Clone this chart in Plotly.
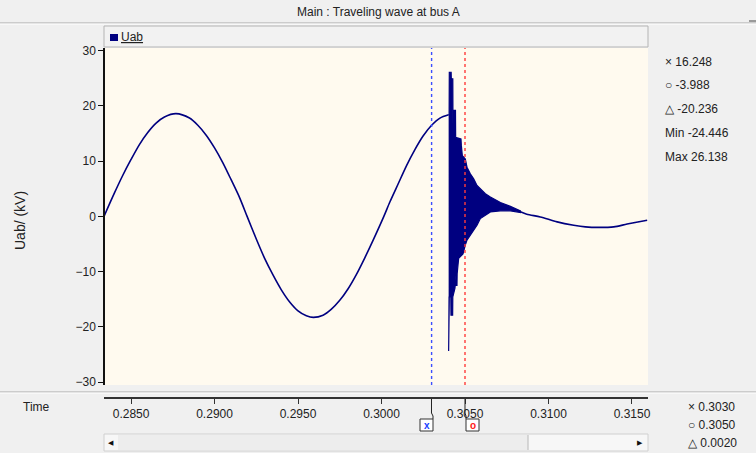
import plotly.graph_objects as go

# ---------------- data ----------------
sine_t = [0.28338, 0.28400, 0.28450, 0.28500, 0.28550, 0.28600, 0.28650, 0.28700,
          0.28769, 0.28850, 0.28900, 0.28950, 0.29000, 0.29050, 0.29100, 0.29150,
          0.29195, 0.29250, 0.29300, 0.29350, 0.29400, 0.29450, 0.29500, 0.29550,
          0.29592, 0.29650, 0.29700, 0.29750, 0.29800, 0.29850, 0.29900, 0.29950,
          0.30014, 0.30050, 0.30100, 0.30150, 0.30200, 0.30250, 0.30300, 0.30350,
          0.30402]
sine_v = [0.0, 4.2, 7.4, 10.3, 13.0, 15.2, 16.9, 18.0,
          18.6, 17.8, 16.5, 14.7, 12.4, 9.7, 6.6, 3.4,
          0.0, -4.1, -7.6, -10.6, -13.3, -15.5, -17.1, -18.0,
          -18.3, -17.9, -16.8, -15.2, -13.1, -10.5, -7.5, -4.3,
          0.0, 2.6, 5.9, 9.2, 12.1, 14.6, 16.5, 17.8,
          18.4]

upper_t = [0.30402, 0.30405, 0.30406, 0.30417, 0.30418, 0.30427, 0.30428, 0.30433,
           0.30434, 0.30443, 0.30444, 0.30476, 0.30478, 0.30484, 0.30502, 0.30512,
           0.30532, 0.30552, 0.30572, 0.30592, 0.30622, 0.30652, 0.30712, 0.30772,
           0.30832]
upper_v = [18.4, 18.5, 26.1, 26.1, 24.9, 24.9, 16.8, 16.8,
           19.2, 19.2, 14.3, 14.0, 12.9, 11.0, 10.4, 8.9,
           7.7, 6.8, 5.6, 5.0, 4.1, 3.5, 2.5, 1.8,
           1.0]

lower_t = [0.30402, 0.30405, 0.30406, 0.30415, 0.30416, 0.30426, 0.30427, 0.30440,
           0.30447, 0.30448, 0.30452, 0.30453, 0.30462, 0.30488, 0.30502, 0.30512,
           0.30532, 0.30552, 0.30572, 0.30592, 0.30622, 0.30652, 0.30712, 0.30772,
           0.30832]
lower_v = [-24.4, -24.4, -14.6, -14.6, -17.9, -17.9, -14.6, -13.0,
           -10.4, -12.5, -12.5, -10.4, -7.6, -6.8, -5.2, -4.3,
           -3.2, -2.5, -1.6, -0.4, 0.2, 0.8, 1.0, 1.0,
           0.7]

tail_t = [0.30832, 0.30870, 0.30951, 0.31052, 0.31151, 0.31221, 0.31300, 0.31391, 0.31471, 0.31591]
tail_v = [0.85, 0.4, -0.1, -1.0, -1.6, -1.9, -2.0, -1.9, -1.4, -0.7]

x_ticks = [0.2850, 0.2900, 0.2950, 0.3000, 0.3050, 0.3100, 0.3150]
x_tick_labels = ["0.2850", "0.2900", "0.2950", "0.3000", "0.3050", "0.3100", "0.3150"]
y_ticks = [-30, -20, -10, 0, 10, 20, 30]

cursor_x = 0.3030
cursor_o = 0.3050
readouts = ["\u00d7 16.248", "\u25cb -3.988", "\u25b3 -20.236", "Min -24.446", "Max 26.138"]
time_readouts = ["\u00d7 0.3030", "\u25cb 0.3050", "\u25b3 0.0020"]

# ---------------- layout geometry ----------------
W, H = 756, 453
L, R, T, B = 104, 648, 48, 398
PW, PH = R - L, B - T


def px(x):
    return (x - L) / PW


def py(y):
    return (B - y) / PH


NAVY = "#000080"
FONT = "Liberation Sans, Arial, sans-serif"
TXT = "#222222"

fig = go.Figure()

fig.add_trace(go.Scatter(x=sine_t, y=sine_v, mode="lines",
                         line=dict(color=NAVY, width=1.6, shape="spline", smoothing=0.8),
                         showlegend=False, hoverinfo="skip"))
fig.add_trace(go.Scatter(x=upper_t + lower_t[::-1], y=upper_v + lower_v[::-1], mode="lines",
                         fill="toself", fillcolor=NAVY, line=dict(color=NAVY, width=1.2),
                         showlegend=False, hoverinfo="skip"))
fig.add_trace(go.Scatter(x=tail_t, y=tail_v, mode="lines",
                         line=dict(color=NAVY, width=1.6, shape="spline", smoothing=0.8),
                         showlegend=False, hoverinfo="skip"))

shapes = []
# title bar separators
shapes.append(dict(type="line", xref="paper", yref="paper", x0=px(0), x1=px(W), y0=py(23), y1=py(23),
                   line=dict(color="#A8A8A8", width=1)))
shapes.append(dict(type="line", xref="paper", yref="paper", x0=px(0), x1=px(W), y0=py(24), y1=py(24),
                   line=dict(color="#FFFFFF", width=1)))
shapes.append(dict(type="line", xref="paper", yref="paper", x0=px(749), x1=px(756), y0=py(21), y1=py(21),
                   line=dict(color="#444444", width=1)))
# legend bar
shapes.append(dict(type="rect", xref="paper", yref="paper", x0=px(104), x1=px(648), y0=py(47), y1=py(26),
                   fillcolor="#F2F2F2", line=dict(color="#B4B4B4", width=1)))
shapes.append(dict(type="rect", xref="paper", yref="paper", x0=px(110), x1=px(118), y0=py(41), y1=py(34),
                   fillcolor=NAVY, line=dict(width=0)))
# separator between plot and time axis
shapes.append(dict(type="line", xref="paper", yref="paper", x0=px(0), x1=px(W), y0=py(392), y1=py(392),
                   line=dict(color="#A8A8A8", width=1)))
shapes.append(dict(type="line", xref="paper", yref="paper", x0=px(0), x1=px(W), y0=py(393), y1=py(393),
                   line=dict(color="#FFFFFF", width=1)))
# cursors
yd0 = py(385)
shapes.append(dict(type="line", xref="x", yref="paper", x0=cursor_x, x1=cursor_x, y0=yd0, y1=1,
                   line=dict(color="#3B4FFF", width=1.4, dash="3px,3px")))
shapes.append(dict(type="line", xref="x", yref="paper", x0=cursor_o, x1=cursor_o, y0=yd0, y1=1,
                   line=dict(color="#FF3B3B", width=1.4, dash="3px,3px")))


def path(points):
    return "M " + " L ".join(f"{px(a):.5f},{py(b):.5f}" for a, b in points)


# cursor flags under the time axis
shapes.append(dict(type="path", xref="paper", yref="paper",
                   path=path([(431.5, 399), (431.5, 413), (433, 416), (433, 419)]),
                   line=dict(color="#222222", width=1)))
shapes.append(dict(type="rect", xref="paper", yref="paper", x0=px(420), x1=px(433), y0=py(431), y1=py(419),
                   fillcolor="#FFFFFF", line=dict(color="#333333", width=1)))
shapes.append(dict(type="path", xref="paper", yref="paper",
                   path=path([(465, 399), (465, 413), (466, 416), (466, 419)]),
                   line=dict(color="#222222", width=1)))
shapes.append(dict(type="rect", xref="paper", yref="paper", x0=px(466), x1=px(479), y0=py(431), y1=py(419),
                   fillcolor="#FFFFFF", line=dict(color="#333333", width=1)))
# scrollbar
shapes.append(dict(type="rect", xref="paper", yref="paper", x0=px(104), x1=px(648), y0=py(451), y1=py(434),
                   fillcolor="#F7F7F7", line=dict(color="#D0D0D0", width=1)))
shapes.append(dict(type="rect", xref="paper", yref="paper", x0=px(118), x1=px(528), y0=py(450), y1=py(435),
                   fillcolor="#EDEDED", line=dict(width=0)))
shapes.append(dict(type="line", xref="paper", yref="paper", x0=px(528), x1=px(528), y0=py(450), y1=py(435),
                   line=dict(color="#B8B8B8", width=1)))

annotations = []


def note(text, x, y, xanchor="left", size=12, color=TXT, family=FONT, angle=0):
    annotations.append(dict(text=text, xref="paper", yref="paper", x=px(x), y=py(y),
                            xanchor=xanchor, yanchor="middle", textangle=angle, showarrow=False,
                            borderpad=0, font=dict(family=family, size=size, color=color)))


note("Main : Traveling wave at bus A", 378, 12, xanchor="center")
note("<u>Uab</u>", 120, 37.5)
note("Uab/ (kV)", 20, 221, xanchor="center", size=14, angle=-90)
note("Time", 22, 407)
for txt, yy in zip(readouts, [62, 85, 109, 133, 157]):
    note(txt, 664, yy)
for txt, yy in zip(time_readouts, [407, 425, 443]):
    note(txt, 687, yy)
note("<b>x</b>", 426.5, 425, xanchor="center", size=10, color="#2040FF")
note("<b>o</b>", 472.5, 425, xanchor="center", size=10, color="#FF2020")
note("\u25c0", 111, 442.5, xanchor="center", size=7, color="#111111", family="DejaVu Sans")
note("\u25b6", 640, 442.5, xanchor="center", size=7, color="#111111", family="DejaVu Sans")

fig.update_layout(
    width=W, height=H,
    margin=dict(l=L, r=W - R, t=T, b=H - B, pad=0),
    paper_bgcolor="#F0F0F0",
    plot_bgcolor="#FFFAEF",
    showlegend=False,
    shapes=shapes,
    annotations=annotations,
    font=dict(family=FONT, size=12, color=TXT),
    xaxis=dict(range=[0.28338, 0.31596], anchor="free", position=0, showgrid=False, zeroline=False,
               showline=True, linecolor="#333333", linewidth=2, ticks="outside", ticklen=5,
               tickcolor="#333333", tickvals=x_ticks, ticktext=x_tick_labels,
               tickfont=dict(family=FONT, size=12, color=TXT)),
    yaxis=dict(range=[-30.54, 30.49], domain=[py(385), 1], anchor="free", position=0,
               showgrid=False, zeroline=False, showline=True, linecolor="#111111", linewidth=1.5,
               ticks="outside", ticklen=5, tickcolor="#111111", tickvals=y_ticks,
               tickfont=dict(family=FONT, size=12, color=TXT)),
)

fig.write_html("out.html",
               config={"displayModeBar": False},
               post_script="document.body.style.margin='0px';"
                           "document.documentElement.style.overflow='hidden';"
                           "document.body.style.overflow='hidden';")
